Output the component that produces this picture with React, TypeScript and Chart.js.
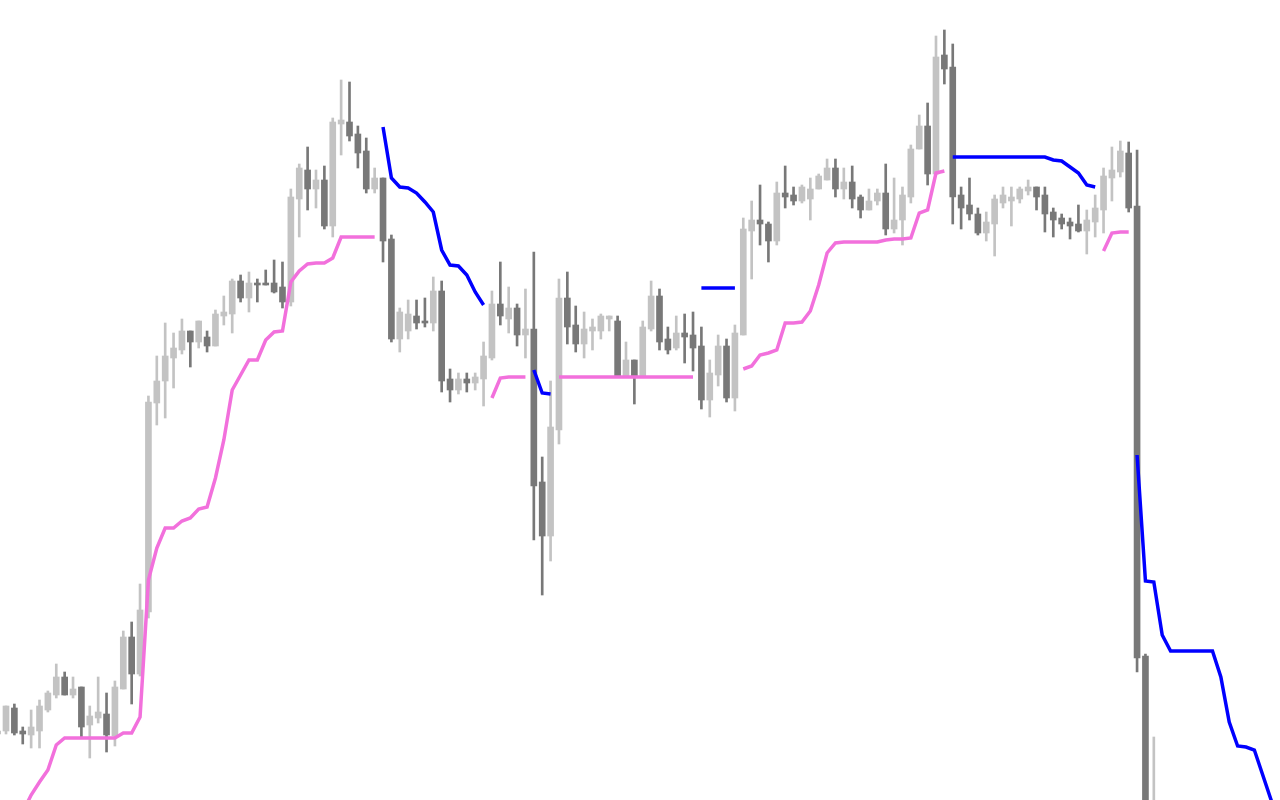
import React, { useEffect, useRef } from "react";
import { Chart, registerables } from "chart.js";

Chart.register(...registerables);

// index of the first candle in the arrays below
const FIRST_CANDLE = -1;

const opens = [
  66, 69, 92, 69, 65, 69, 90, 105, 123, 105, 113, 75, 82, 86, 64, 111, 163, 126, 188, 397,
  419, 442, 450, 469, 458, 463, 454, 484, 486, 519, 502, 517, 517, 517, 513, 498, 601, 630, 611, 620,
  574, 676, 678, 666, 649, 611, 622, 561, 461, 469, 484, 479, 477, 509, 421, 410, 421, 417, 421, 442,
  496, 481, 492, 465, 471, 318, 264, 370, 502, 475, 456, 469, 469, 481, 479, 424, 440, 424, 471, 504,
  461, 452, 467, 465, 454, 400, 425, 454, 402, 465, 569, 580, 576, 559, 607, 605, 599, 601, 611, 620,
  632, 611, 618, 603, 590, 599, 607, 571, 580, 603, 651, 674, 626, 745, 733, 605, 595, 586, 567, 576,
  597, 599, 601, 609, 613, 605, 588, 582, 578, 576, 569, 578, 590, 622, 628, 647, 594, 144, -150,
];
const highs = [
  71, 94, 96, 73, 90, 100, 109, 136, 128, 123, 113, 94, 123, 107, 119, 169, 178, 216, 404, 444,
  477, 467, 481, 469, 479, 469, 490, 504, 521, 525, 528, 521, 530, 540, 538, 611, 636, 653, 630, 634,
  682, 720, 718, 674, 662, 632, 622, 565, 492, 500, 500, 502, 523, 519, 431, 427, 427, 427, 458, 509,
  538, 513, 496, 511, 548, 343, 419, 521, 528, 494, 488, 481, 486, 484, 484, 458, 440, 479, 519, 511,
  473, 484, 486, 488, 473, 440, 465, 461, 475, 582, 599, 615, 578, 618, 634, 613, 615, 622, 626, 641,
  641, 632, 634, 605, 611, 611, 636, 622, 613, 655, 685, 697, 764, 770, 756, 613, 622, 592, 588, 605,
  613, 613, 613, 620, 613, 613, 592, 586, 582, 595, 590, 605, 632, 653, 659, 658, 650, 146, 63,
];
const lows = [
  64, 66, 65, 56, 52, 52, 88, 102, 105, 102, 63, 42, 77, 48, 54, 111, 96, 124, 182, 375,
  382, 412, 446, 433, 452, 448, 454, 475, 467, 498, 488, 498, 515, 507, 492, 494, 563, 590, 592, 571,
  563, 645, 659, 632, 607, 607, 538, 458, 448, 461, 471, 473, 469, 408, 398, 406, 408, 410, 394, 440,
  475, 467, 454, 442, 260, 205, 239, 356, 456, 448, 442, 450, 461, 469, 424, 424, 396, 424, 469, 450,
  446, 450, 437, 429, 391, 383, 414, 398, 389, 465, 521, 555, 538, 555, 592, 595, 597, 580, 611, 620,
  603, 601, 592, 582, 590, 595, 565, 567, 555, 597, 651, 615, 626, 716, 576, 571, 580, 565, 559, 544,
  592, 574, 597, 605, 590, 568, 563, 571, 561, 568, 546, 563, 567, 599, 623, 588, 128, -120, -170,
];
const closes = [
  69, 94, 67, 66, 73, 94, 107, 123, 105, 111, 73, 84, 88, 65, 113, 163, 126, 190, 398, 419,
  444, 452, 469, 458, 479, 454, 486, 488, 519, 502, 517, 515, 515, 508, 498, 603, 632, 611, 620, 574,
  678, 680, 664, 647, 611, 622, 559, 461, 488, 486, 477, 477, 509, 419, 410, 421, 417, 423, 444, 496,
  484, 492, 465, 471, 314, 264, 373, 502, 473, 456, 471, 473, 484, 484, 424, 440, 424, 473, 504, 458,
  450, 467, 463, 452, 400, 427, 454, 402, 467, 571, 580, 576, 559, 607, 603, 599, 613, 611, 624, 632,
  611, 618, 601, 590, 599, 607, 571, 580, 605, 651, 674, 626, 743, 731, 603, 592, 586, 567, 578, 601,
  605, 603, 611, 613, 603, 586, 580, 576, 574, 569, 580, 592, 624, 630, 649, 592, 142, -100, -20,
];

// trailing stop line below price (uptrend), by candle index segments
const support1Start = 2;
const support1 = [
  -12, 5, 18, 30, 55, 62, 62, 62, 62, 62, 62, 62, 67, 67, 83, 220, 252, 272, 272, 279,
  282, 291, 293, 322, 360, 410, 425, 440, 440, 460, 468, 469, 518, 529, 536, 537, 537, 542, 563, 563,
  563, 563, 563,
];
const support2Start = 58;
const support2 = [402, 422, 423, 423, 423];
const support3Start = 66;
const support3 = [423, 423, 423, 423, 423, 423, 423, 423, 423, 423, 423, 423, 423, 423, 423, 423, 423];
const support4Start = 88;
const support4 = [
  431, 434, 445, 447, 450, 477, 477, 478, 489, 515, 547, 557, 558, 558, 558, 558, 558, 560, 561, 561,
  562, 587, 590, 627, 629,
];
const support5Start = 131;
const support5 = [549, 567, 568, 568];

// trailing stop line above price (downtrend)
const resist1Start = 45;
const resist1 = [673, 622, 613, 612, 607, 598, 588, 550, 535, 534, 525, 508, 495];
const resist2Start = 63;
const resist2 = [430, 407, 406];
const resist3Start = 83;
const resist3 = [512, 512, 512, 512, 512];
const resist4Start = 113;
const resist4 = [643, 643, 643, 643, 643, 643, 643, 643, 643, 643, 643, 643, 640, 639, 633, 627, 615, 613];
const resist5Start = 135;
const resist5 = [345, 219, 218, 165, 149, 149, 149, 149, 149, 149, 123, 78, 54, 53, 50, 25, 0, -25];

const X_MIN = -0.716;
const X_MAX = 152.06;
const Y_MIN = 0;
const Y_MAX = 800;

const LIGHT = "#c3c3c3";
const DARK = "#787878";
const PINK = "#f270dc";
const BLUE = "#0000ff";

type Seg = { start: number; values: number[] };

function segmentsToData(segs: Seg[]) {
  const out: { x: number; y: number | null }[] = [];
  segs.forEach((s) => {
    s.values.forEach((v, k) => out.push({ x: s.start + k, y: v }));
    out.push({ x: s.start + s.values.length - 0.5, y: null });
  });
  return out;
}

export default function App() {
  const ref = useRef<HTMLCanvasElement | null>(null);

  useEffect(() => {
    document.body.style.margin = "0";
    const canvas = ref.current;
    if (!canvas) return;

    const bodies = opens.map((o, k) => ({ x: FIRST_CANDLE + k, y: [o, closes[k]] }));
    const wicks = highs.map((h, k) => ({ x: FIRST_CANDLE + k, y: [lows[k], h] }));
    const colors = opens.map((o, k) => (closes[k] > o ? LIGHT : DARK));

    const supportData = segmentsToData([
      { start: support1Start, values: support1 },
      { start: support2Start, values: support2 },
      { start: support3Start, values: support3 },
      { start: support4Start, values: support4 },
      { start: support5Start, values: support5 },
    ]);
    const resistData = segmentsToData([
      { start: resist1Start, values: resist1 },
      { start: resist2Start, values: resist2 },
      { start: resist3Start, values: resist3 },
      { start: resist4Start, values: resist4 },
      { start: resist5Start, values: resist5 },
    ]);

    const chart = new Chart(canvas, {
      type: "bar",
      data: {
        datasets: [
          {
            type: "line",
            label: "support",
            data: supportData as any,
            borderColor: PINK,
            borderWidth: 3.5,
            pointRadius: 0,
            tension: 0,
            spanGaps: false,
            order: 0,
          } as any,
          {
            type: "line",
            label: "resistance",
            data: resistData as any,
            borderColor: BLUE,
            borderWidth: 3.5,
            pointRadius: 0,
            tension: 0,
            spanGaps: false,
            order: 0,
          } as any,
          {
            type: "bar",
            label: "body",
            data: bodies as any,
            backgroundColor: colors,
            barThickness: 6,
            grouped: false,
            borderWidth: 0,
            minBarLength: 1,
            order: 1,
          } as any,
          {
            type: "bar",
            label: "wick",
            data: wicks as any,
            backgroundColor: colors,
            barThickness: 2,
            grouped: false,
            borderWidth: 0,
            order: 2,
          } as any,
        ],
      },
      options: {
        animation: false,
        responsive: false,
        devicePixelRatio: 1,
        layout: { padding: 0 },
        plugins: { legend: { display: false }, tooltip: { enabled: false } },
        scales: {
          x: { type: "linear", min: X_MIN, max: X_MAX, display: false, offset: false },
          y: { type: "linear", min: Y_MIN, max: Y_MAX, display: false },
        },
      } as any,
    });
    return () => chart.destroy();
  }, []);

  return (
    <div style={{ width: 1280, height: 800, background: "#ffffff" }}>
      <canvas ref={ref} width={1280} height={800} style={{ display: "block" }} />
    </div>
  );
}
